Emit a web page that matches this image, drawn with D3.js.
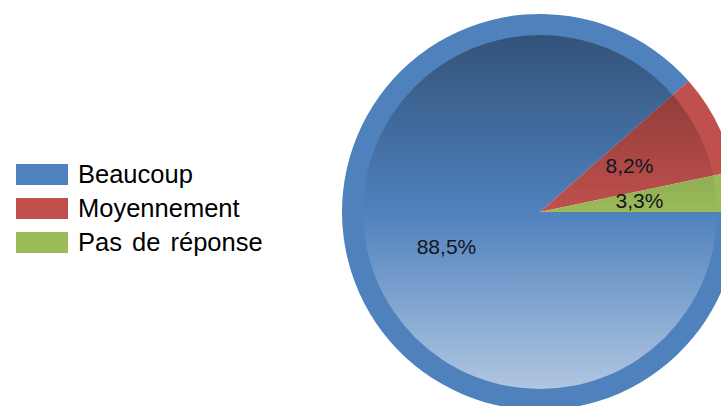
<!DOCTYPE html>
<html>
<head>
<meta charset="utf-8">
<script src="https://cdn.jsdelivr.net/npm/d3@7"></script>
<style>
  body { margin: 0; background: #fff; }
  svg { display: block; font-family: "Liberation Sans", Arial, sans-serif; }
</style>
</head>
<body>
<div></div>
<script>
var outerWidth  = 721;
var outerHeight = 406;

// data
var categories = ["Beaucoup", "Moyennement", "Pas de réponse"];
var values     = [88.5, 8.2, 3.3];
var colors     = ["#4f81bd", "#c0504d", "#9bbb59"];
var labels     = ["88,5%", "8,2%", "3,3%"];

var cx = 540, cy = 212;
var rOuter = 198;
var rInner = 177;
var rLabel = 100;

var svg = d3.select("div").append("svg")
  .attr("width",  outerWidth)
  .attr("height", outerHeight);

// vertical shading over the inner disk (coords local to the pie group)
var defs = svg.append("defs");
var grad = defs.append("linearGradient")
  .attr("id", "shade")
  .attr("gradientUnits", "userSpaceOnUse")
  .attr("x1", 0).attr("y1", -rInner)
  .attr("x2", 0).attr("y2", rInner);
grad.append("stop").attr("offset", 0).attr("stop-color", "#000").attr("stop-opacity", 0.36);
grad.append("stop").attr("offset", 0.5).attr("stop-color", "#000").attr("stop-opacity", 0);
grad.append("stop").attr("offset", 0.5).attr("stop-color", "#fff").attr("stop-opacity", 0);
grad.append("stop").attr("offset", 1).attr("stop-color", "#fff").attr("stop-opacity", 0.55);

var g = svg.append("g")
  .attr("transform", "translate(" + cx + "," + cy + ")");

// start at 3 o'clock, go clockwise so the small slices end just above it
var pie = d3.pie()
  .sort(null)
  .startAngle(-1.5 * Math.PI)
  .endAngle(0.5 * Math.PI);

var arcs = pie(values);

var arc = d3.arc().innerRadius(0).outerRadius(rOuter);
var labelArc = d3.arc().innerRadius(rLabel).outerRadius(rLabel);

g.selectAll("path.slice")
  .data(arcs)
  .enter().append("path")
  .attr("class", "slice")
  .attr("d", arc)
  .attr("fill", function (d, i){ return colors[i]; });

g.append("circle")
  .attr("r", rInner)
  .attr("fill", "url(#shade)");

g.selectAll("text.pct")
  .data(arcs)
  .enter().append("text")
  .attr("class", "pct")
  .attr("transform", function (d){ return "translate(" + labelArc.centroid(d) + ")"; })
  .attr("text-anchor", "middle")
  .attr("dy", "0.3em")
  .attr("font-size", 21)
  .attr("fill", "#141423")
  .text(function (d, i){ return labels[i]; });

// legend
var legend = svg.append("g")
  .attr("transform", "translate(16,164)");

var item = legend.selectAll("g")
  .data(categories)
  .enter().append("g")
  .attr("transform", function (d, i){ return "translate(0," + (i * 34) + ")"; });

item.append("rect")
  .attr("width", 52)
  .attr("height", 21)
  .attr("fill", function (d, i){ return colors[i]; });

item.append("text")
  .attr("x", 62)
  .attr("y", 19)
  .attr("font-size", 25.5)
  .attr("word-spacing", 3)
  .attr("fill", "#000")
  .text(function (d){ return d; });
</script>
</body>
</html>
